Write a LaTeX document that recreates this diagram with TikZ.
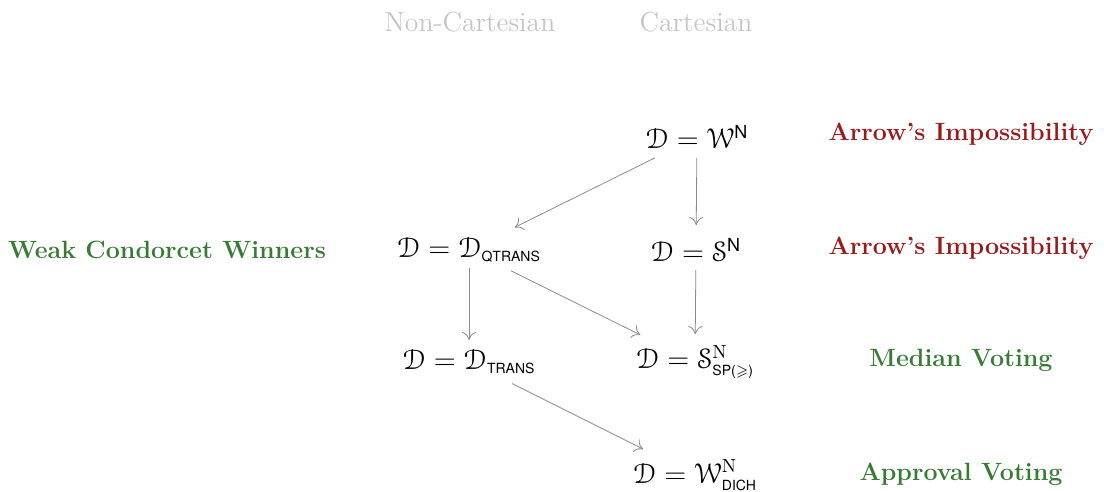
\documentclass[tikz,border=0pt]{standalone}
\usepackage{amsmath,amssymb}
\usepackage[mathcal]{euscript}
\usepackage{fontspec}
\setsansfont{TeX Gyre Heros}
\usetikzlibrary{arrows.meta}
\definecolor{impred}{HTML}{9A1A1C}
\definecolor{possgreen}{HTML}{377B34}
\definecolor{headgray}{HTML}{C4C4C4}
\definecolor{arrgray}{HTML}{8A8A8A}
% small sans-serif indices and exponents
\newcommand{\ssub}[1]{\text{\sffamily\fontsize{7}{8}\selectfont #1}}
\newcommand{\ssup}[1]{\text{\sffamily\fontsize{9}{10}\selectfont #1}}
\newcommand{\rsup}[1]{\text{\fontsize{9.5}{10}\selectfont #1}}
\tikzset{
  prefdom/.style={inner sep=1pt, font=\fontsize{14}{16}\selectfont},
  verdictbad/.style={text=impred, font=\fontsize{12.5}{15}\selectfont\bfseries},
  verdictgood/.style={text=possgreen, font=\fontsize{12.5}{15}\selectfont\bfseries},
  colhead/.style={text=headgray, font=\fontsize{13.8}{16}\selectfont},
  implies/.style={draw=arrgray, line width=0.4pt, -{To[length=4pt,width=7pt]}}
}
\begin{document}
\begin{tikzpicture}[x=0.5pt,y=-0.5pt]
\useasboundingbox (0,0) rectangle (1104,492);

% column headings
\node[colhead] (hnc) at (470,22) {Non-Cartesian};
\node[colhead] (hc)  at (696,22) {Cartesian};

% preference domains
\node[prefdom] (wn)    at (697,137) {$\mathcal{D} = \mathcal{W}^{\ssup{N}}$};
\node[prefdom] (qtr)   at (469,250) {$\mathcal{D} = \mathcal{D}_{\ssub{QTRANS}}$};
\node[prefdom] (sn)    at (696,250) {$\mathcal{D} = \mathcal{S}^{\ssup{N}}$};
\node[prefdom] (tr)    at (469,362) {$\mathcal{D} = \mathcal{D}_{\ssub{TRANS}}$};
\node[prefdom] (sp)    at (695,362) {$\mathcal{D} = \mathcal{S}^{\rsup{N}}_{\ssub{SP($\geqslant$)}}$};
\node[prefdom] (dich)  at (695,475) {$\mathcal{D} = \mathcal{W}^{\rsup{N}}_{\ssub{DICH}}$};

% results for each domain
\node[verdictbad]  (r1) at (961,134) {Arrow’s Impossibility};
\node[verdictbad]  (r2) at (961,248) {Arrow’s Impossibility};
\node[verdictgood] (r3) at (167,250) {Weak Condorcet Winners};
\node[verdictgood] (r4) at (961,360) {Median Voting};
\node[verdictgood] (r5) at (961,474) {Approval Voting};

% implications between domains
\draw[implies, shorten <=23.5pt, shorten >=25.5pt] (wn.center) -- (qtr.center);
\draw[implies, shorten <=10.5pt, shorten >=12.5pt] (wn.center) -- (sn.center);
\draw[implies, shorten <=9pt,    shorten >=11pt]   (qtr.center) -- (tr.center);
\draw[implies, shorten <=23.5pt, shorten >=30.5pt] (qtr.center) -- (sp.center);
\draw[implies, shorten <=10pt,   shorten >=14pt]   (sn.center) -- (sp.center);
\draw[implies, shorten <=24pt,   shorten >=29pt]   (tr.center) -- (dich.center);
\end{tikzpicture}
\end{document}
